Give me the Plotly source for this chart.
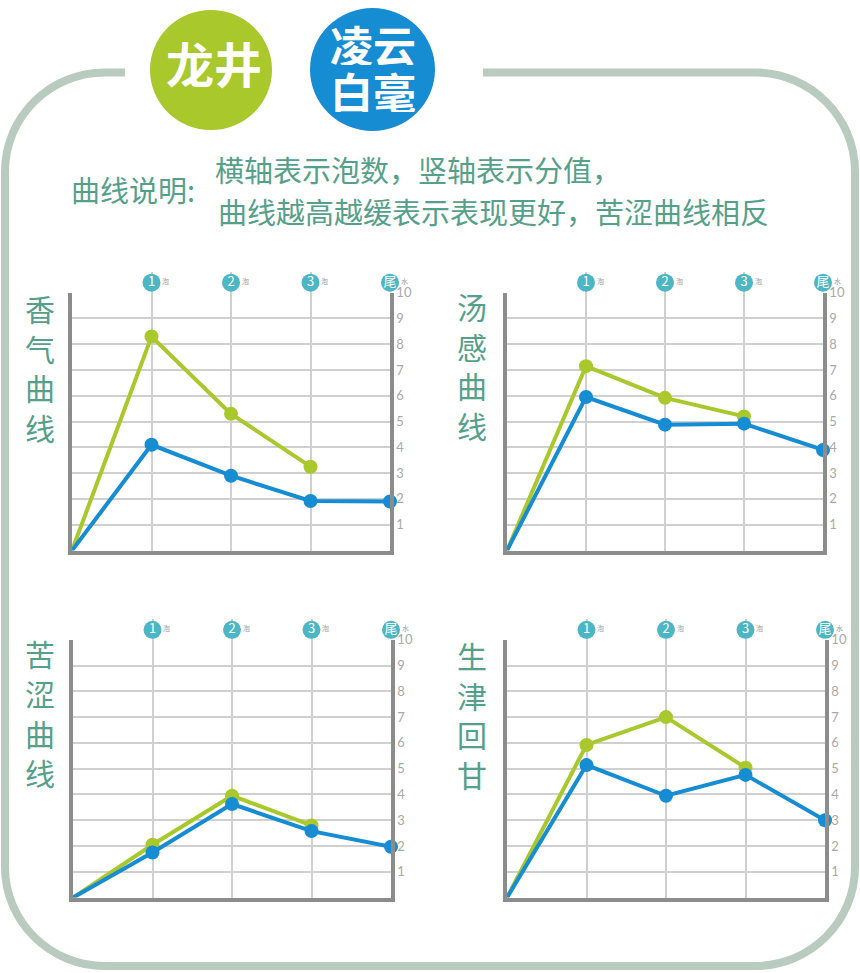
import plotly.graph_objects as go

W, H = 860, 973

# ---------------- data ----------------
rounds_green = [0, 1, 2, 3]
rounds_blue = [0, 1, 2, 3, 4]
badge_x = [1, 2, 3, 4]
badge_labels = ["1", "2", "3", "尾"]
badge_suffix = ["泡", "泡", "泡", "水"]
y_ticks = [1, 2, 3, 4, 5, 6, 7, 8, 9, 10]

panel_titles = ["香气曲线", "汤感曲线", "苦涩曲线", "生津回甘"]
series_names = ["龙井", "凌云白毫"]

longjing_xiangqi = [0, 8.3, 5.3, 3.25]
lingyun_xiangqi = [0, 4.1, 2.9, 1.92, 1.9]
longjing_tanggan = [0, 7.15, 5.92, 5.2]
lingyun_tanggan = [0, 5.95, 4.88, 4.92, 3.9]
longjing_kuse = [0, 2.05, 3.95, 2.8]
lingyun_kuse = [0, 1.75, 3.63, 2.58, 1.97]
longjing_shengjin = [0, 5.92, 7.0, 5.04]
lingyun_shengjin = [0, 5.14, 3.95, 4.76, 3.0]

green_sets = [longjing_xiangqi, longjing_tanggan, longjing_kuse, longjing_shengjin]
blue_sets = [lingyun_xiangqi, lingyun_tanggan, lingyun_kuse, lingyun_shengjin]

desc_label = "曲线说明:"
desc_line1 = "横轴表示泡数，竖轴表示分值，"
desc_line2 = "曲线越高越缓表示表现更好，苦涩曲线相反"

# ---------------- styles ----------------
GREEN = "#a8c82c"
BLUE = "#168cd3"
TEAL = "#4cb6c4"
TXT = "#55a08a"
FRAME = "#b8cbbe"
GRID = "#d0d0d0"
AXIS = "#8c8c8c"
CJK = "Noto Sans CJK SC"
DY = -8  # visual offset correction for CJK glyphs

# panel pixel boxes: left, right, top, bottom
panels = [(72, 390, 287, 547), (507, 823, 287, 547),
          (73, 391, 637, 897), (507, 825, 637, 897)]
title_pos = [(40, 310), (472, 308), (40, 658), (472, 660)]
STRIP = 21          # badge strip height above each panel (px)
BADGE_Y = 10 / 21   # badge centre inside the strip (0..1)

fig = go.Figure()
layout = dict(width=W, height=H, margin=dict(l=0, r=0, t=0, b=0),
              paper_bgcolor="white", plot_bgcolor="rgba(0,0,0,0)",
              showlegend=False, hovermode=False)

# background pixel axis (for decoration)
layout["xaxis5"] = dict(domain=[0, 1], range=[0, W], visible=False, anchor="y5", fixedrange=True)
layout["yaxis5"] = dict(domain=[0, 1], range=[H, 0], visible=False, anchor="x5", fixedrange=True)
fig.add_trace(go.Scatter(x=[0], y=[0], xaxis="x5", yaxis="y5", mode="markers",
                         marker=dict(size=1, color="rgba(0,0,0,0)")))

annots = []
shapes = []

k = 0.5523 * 100
frame = (f"M 125,65 L 105,65 C {105 - k},65 5,{165 - k} 5,165 "
         f"L 5,866 C 5,{866 + k} {105 - k},966 105,966 "
         f"L 755,966 C {755 + k},966 855,{866 + k} 855,866 "
         f"L 855,165 C 855,{165 - k} {755 + k},65 755,65 L 483,65")
shapes.append(dict(type="path", path=frame, xref="x5", yref="y5",
                   line=dict(color=FRAME, width=8), layer="below"))
shapes.append(dict(type="circle", x0=150, x1=272, y0=2, y1=123, xref="x5", yref="y5",
                   fillcolor=GREEN, line=dict(width=0), layer="below"))
shapes.append(dict(type="circle", x0=310, x1=435, y0=0, y1=124, xref="x5", yref="y5",
                   fillcolor=BLUE, line=dict(width=0), layer="below"))

for i, (l, r, t, b) in enumerate(panels):
    n = i + 1
    xs = "" if n == 1 else str(n)
    ys_strip = str(n + 5)
    layout["xaxis" + xs] = dict(domain=[l / W, r / W], anchor="y" + xs, range=[0, 4],
                                tickvals=[1, 2, 3], showticklabels=False, ticks="",
                                showgrid=True, gridcolor=GRID, gridwidth=1.5,
                                showline=True, linecolor=AXIS, linewidth=3.5,
                                zeroline=False, fixedrange=True)
    layout["yaxis" + xs] = dict(domain=[1 - b / H, 1 - t / H], anchor="x" + xs, range=[0, 10],
                                side="right", tickvals=y_ticks, ticks="",
                                tickfont=dict(family="Lato", size=13, color="#a9a9a9"),
                                showgrid=True, gridcolor=GRID, gridwidth=1.5,
                                showline=True, mirror=True, linecolor=AXIS, linewidth=3.5,
                                zeroline=False, fixedrange=True)
    # thin strip axis above the panel for the round badges
    layout["yaxis" + ys_strip] = dict(domain=[1 - t / H, 1 - (t - STRIP) / H], anchor="x" + xs,
                                      range=[0, 1], visible=False, fixedrange=True)
    g = green_sets[i]
    bl = blue_sets[i]
    fig.add_trace(go.Scatter(x=rounds_green[:len(g)], y=g, xaxis="x" + xs, yaxis="y" + xs,
                             name=series_names[0], mode="lines+markers", cliponaxis=False,
                             line=dict(color=GREEN, width=4),
                             marker=dict(color=GREEN, opacity=1, line=dict(width=0),
                                         size=[0] + [14] * (len(g) - 1))))
    fig.add_trace(go.Scatter(x=rounds_blue[:len(bl)], y=bl, xaxis="x" + xs, yaxis="y" + xs,
                             name=series_names[1], mode="lines+markers", cliponaxis=False,
                             line=dict(color=BLUE, width=4),
                             marker=dict(color=BLUE, opacity=1, line=dict(width=0),
                                         size=[0] + [14] * (len(bl) - 1))))
    fig.add_trace(go.Scatter(x=badge_x, y=[BADGE_Y] * len(badge_x), xaxis="x" + xs,
                             yaxis="y" + ys_strip, mode="markers+text", cliponaxis=False,
                             marker=dict(color=TEAL, size=18, opacity=1, line=dict(width=0)),
                             text=badge_labels, textposition="middle center",
                             textfont=dict(family=CJK, size=13, color="white")))
    for bx, sfx in zip(badge_x, badge_suffix):
        annots.append(dict(x=bx, y=BADGE_Y + 0.1, xref="x" + xs, yref="y" + ys_strip, text=sfx,
                           showarrow=False, xshift=14,
                           font=dict(family=CJK, size=7, color="#9a9a9a")))
    tx, ty = title_pos[i]
    for j, ch in enumerate(panel_titles[i]):
        annots.append(dict(x=tx, y=ty + 40 * j + DY, xref="x5", yref="y5", text=ch,
                           showarrow=False, height=35,
                           font=dict(family=CJK, size=30, color=TXT)))

annots.append(dict(x=133, y=190 + DY, xref="x5", yref="y5", text=desc_label, showarrow=False,
                   font=dict(family=CJK, size=29, color=TXT)))
annots.append(dict(x=213, y=170 + DY, xref="x5", yref="y5", text=desc_line1, showarrow=False,
                   xanchor="left", font=dict(family=CJK, size=29, color=TXT)))
annots.append(dict(x=216, y=213 + DY, xref="x5", yref="y5", text=desc_line2, showarrow=False,
                   xanchor="left", font=dict(family=CJK, size=29, color=TXT)))
annots.append(dict(x=214, y=62 + DY, xref="x5", yref="y5", text="<b>龙井</b>", showarrow=False,
                   font=dict(family=CJK, size=48, color="white")))
annots.append(dict(x=373, y=44 + DY, xref="x5", yref="y5", text="<b>凌云</b>", showarrow=False,
                   height=42, font=dict(family=CJK, size=43, color="white")))
annots.append(dict(x=373, y=92 + DY, xref="x5", yref="y5", text="<b>白毫</b>", showarrow=False,
                   height=42, font=dict(family=CJK, size=43, color="white")))

layout["annotations"] = annots
layout["shapes"] = shapes

fig.update_layout(**layout)
fig.write_html("out.html")
